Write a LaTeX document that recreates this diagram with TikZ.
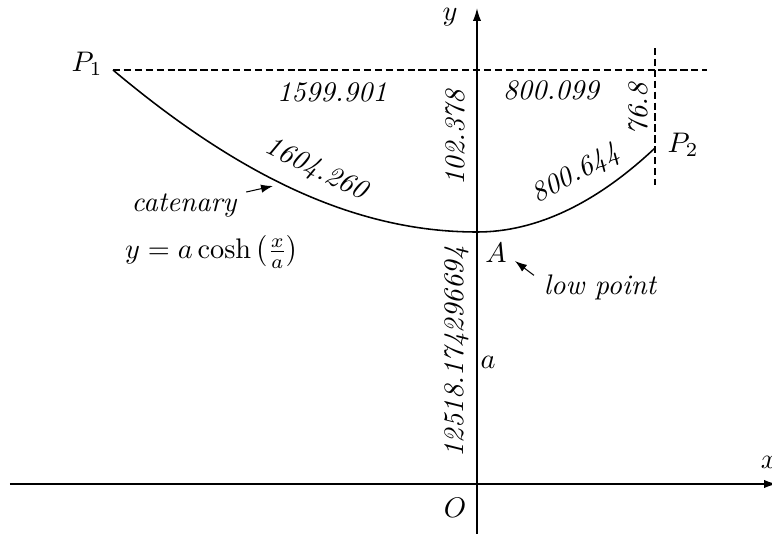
\documentclass[tikz,border=0pt]{standalone}
\usepackage{fix-cm}
\usetikzlibrary{arrows.meta}
\begin{document}
\fontsize{10.9}{13}\selectfont
\begin{tikzpicture}[
    x=0.385pt, y=0.385pt,
    axis/.style={-{Latex[length=5pt,width=3.2pt]}, semithick},
    arrow/.style={-{Latex[length=4.6pt,width=3.2pt]}},
    guide/.style={dash pattern=on 2.8pt off 1.4pt},
    dim/.style={font=\itshape},
]
\useasboundingbox (-477,-49) rectangle (295,484);

% axes
\coordinate (O) at (0,0);
\coordinate (xL) at (-467,0);
\coordinate (xR) at (300,0);
\coordinate (yB) at (0,-60);
\coordinate (yT) at (0,476);
\draw[axis] (xL) -- (xR);
\draw[axis] (yB) -- (yT);
\node (xlbl) at (292,22) {$x$};
\node (ylbl) at (-27,467) {$y$};
\node (Olbl) at (-22,-24) {$O$};

% points of the chain
\coordinate (P1) at (-364,414);
\coordinate (A) at (0,252);
\coordinate (P2) at (178,336);
\coordinate (H) at (230,414);
\coordinate (Vt) at (178,436);
\coordinate (Vb) at (178,299);

\draw[guide] (P1) -- (H);
\draw[guide] (Vt) -- (Vb);
\draw[semithick] (P1) .. controls +(-40:160) and +(180:125) .. (A)
    .. controls +(0:59) and +(223.3:81) .. (P2);

\node (P1lbl) at (-390,420) {$P_1$};
\node (P2lbl) at (206,339) {$P_2$};
\node (Albl) at (19,231) {$A$};
\node (albl) at (11,122) {$a$};

% dimensions
\node[dim] (dL) at (-145,392) {1599.901};
\node[dim] (dR) at (74,394) {800.099};
\node[dim, rotate=90] (sag) at (-22,346) {102.378};
\node[dim, rotate=90] (rise) at (161,375) {76.8};
\node[dim, rotate=90] (par) at (-20,132) {12518.174296694};
\node[dim, rotate=-26] (sL) at (-161,314) {1604.260};
\node[dim, rotate=29] (sR) at (99,309) {800.644};

% callouts
\node[dim] (cat) at (-293,278) {catenary};
\node (eq) at (-265,232) {$y=a\cosh\left(\frac{x}{a}\right)$};
\coordinate (catpt) at (-204,298);
\draw[arrow] (cat) -- (catpt);
\node[dim] (low) at (123,197) {low point};
\coordinate (Apt) at (38,223);
\draw[arrow] (low.170) -- (Apt);
\end{tikzpicture}
\end{document}
